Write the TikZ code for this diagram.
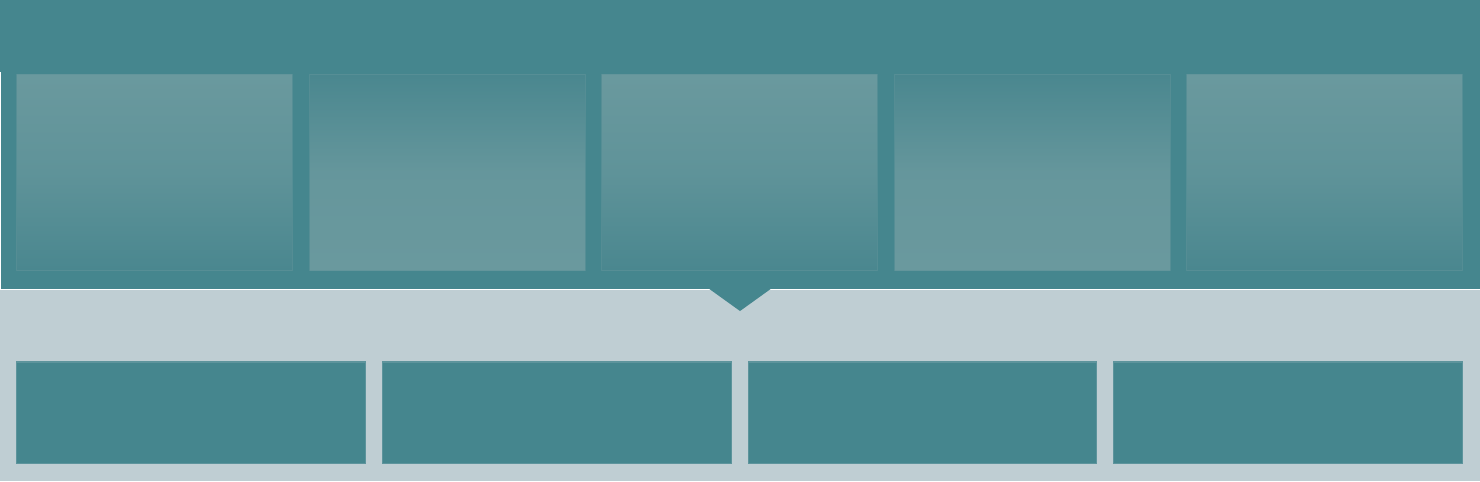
\documentclass[tikz,border=0pt]{standalone}
\usetikzlibrary{positioning}
\definecolor{teal1}{HTML}{45868E}
\definecolor{band}{HTML}{BFCED3}
\definecolor{lightsq}{HTML}{6A999E}
\definecolor{darksq}{HTML}{4A878F}
\definecolor{midsq}{HTML}{5F9399}
\tikzset{
  sqdown/.style={rectangle, inner sep=0pt, minimum width=2.75cm, minimum height=1.95cm,
    top color=lightsq, bottom color=darksq, middle color=midsq, draw=lightsq!70!teal1, draw opacity=0.6, line width=0.3pt},
  squp/.style={rectangle, inner sep=0pt, minimum width=2.75cm, minimum height=1.95cm,
    top color=darksq, bottom color=lightsq, middle color=lightsq!85!darksq, draw=lightsq!70!teal1, draw opacity=0.6, line width=0.3pt},
  lowbox/.style={rectangle, inner sep=0pt, minimum width=3.48cm, minimum height=1.01cm,
    fill=teal1, draw=teal1!80!band, line width=0.3pt}
}
\begin{document}
\begin{tikzpicture}[x=0.01cm,y=-0.01cm]
\useasboundingbox (0,0) rectangle (1480,481);
\fill[white] (0,0) rectangle (1480,481);
% top band
\fill[teal1] (0,0) rectangle (1480,72);
\fill[teal1] (1.5,72) rectangle (1480,289);
% lower band
\fill[band] (0,290) rectangle (1480,481);
% pointer
\fill[teal1] (708,288) -- (772,288) -- (740,311) -- cycle;
% squares
\node[sqdown] (s1) at (154.5,172.5) {};
\node[squp]   (s2) at (447.5,172.5) {};
\node[sqdown] (s3) at (739.5,172.5) {};
\node[squp]   (s4) at (1032.5,172.5) {};
\node[sqdown] (s5) at (1324.5,172.5) {};
% lower boxes
\node[lowbox] (b1) at (191,412.5) {};
\node[lowbox] (b2) at (557,412.5) {};
\node[lowbox] (b3) at (922.5,412.5) {};
\node[lowbox] (b4) at (1288,412.5) {};
\end{tikzpicture}
\end{document}
